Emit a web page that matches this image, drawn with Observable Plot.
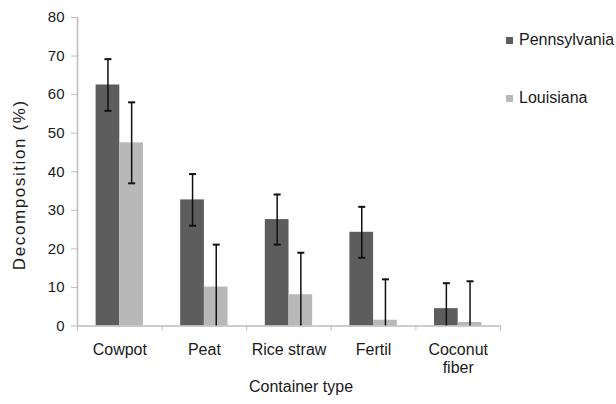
<!DOCTYPE html>
<html><head><meta charset="utf-8">
<script src="https://cdn.jsdelivr.net/npm/d3@7"></script>
<script src="https://cdn.jsdelivr.net/npm/@observablehq/plot@0.6"></script>
<style>
body{margin:0;background:#fff;}
#chart{position:relative;width:616px;height:404px;font-family:"Liberation Sans",Arial,sans-serif;color:#1a1a1a;}
.leg{position:absolute;left:506px;font-size:16px;line-height:18px;display:flex;align-items:center;color:#1a1a1a;white-space:nowrap;}
.sw{width:7px;height:7px;margin-right:6px;}
</style></head><body><div id="chart"></div>
<script>
// ---- data ----
const categories = ["Cowpot", "Peat", "Rice straw", "Fertil", "Coconut fiber"];
const seriesNames = ["Pennsylvania", "Louisiana"];
const pennsylvania = [62.5, 32.7, 27.6, 24.3, 4.5];
const pennsylvaniaErr = [6.7, 6.7, 6.5, 6.6, 6.6];
const louisiana = [47.5, 10.1, 8.1, 1.5, 0.9];
const louisianaErr = [10.5, 11.0, 10.9, 10.6, 10.7];
const yTicks = [0, 10, 20, 30, 40, 50, 60, 70, 80];
const seriesColors = ["#5d5d5d", "#b8b8b8"];

// ---- table ----
const barW = 0.28;
const rows = [];
categories.forEach((c, i) => {
  [[pennsylvania, pennsylvaniaErr], [louisiana, louisianaErr]].forEach(([vals, errs], s) => {
    const v = vals[i], e = errs[i];
    const x1 = i + 0.5 - (s === 0 ? barW : 0);
    rows.push({cat: c, series: seriesNames[s], value: v, err: e,
      x1, x2: x1 + barW, xc: x1 + barW / 2,
      lo: Math.max(0, v - e), hi: v + e, hasLo: v - e > 0});
  });
});

const cap = {draw(ctx) { ctx.moveTo(-3.5, 0); ctx.lineTo(3.5, 0); }};
const axisGray = "#bdbdbd";

const plot = Plot.plot({
  width: 616, height: 404,
  marginLeft: 77, marginRight: 116, marginTop: 17, marginBottom: 78.5,
  style: {fontFamily: '"Liberation Sans", Arial, sans-serif', fontSize: "15px", color: "#1a1a1a", background: "#fff"},
  x: {domain: [0, categories.length], axis: null},
  y: {domain: [0, 80], axis: null},
  color: {domain: seriesNames, range: seriesColors},
  marks: [
    Plot.rectY(rows, {x1: "x1", x2: "x2", y: "value", fill: "series"}),
    Plot.ruleY([0], {stroke: axisGray, strokeWidth: 1.5}),
    Plot.ruleX([0], {stroke: axisGray, strokeWidth: 1.5}),
    Plot.axisY({ticks: yTicks, tickSize: 6, tickPadding: 7, stroke: axisGray, fill: "#1a1a1a", fontSize: 15, label: null}),
    Plot.axisX({ticks: d3.range(0, categories.length + 1), tickFormat: () => "", tickSize: 5, stroke: axisGray, label: null}),
    Plot.ruleX(rows, {x: "xc", y1: "lo", y2: "hi", stroke: "#111", strokeWidth: 1.5}),
    Plot.dot(rows, {x: "xc", y: "hi", symbol: cap, fill: "none", stroke: "#111", strokeWidth: 2}),
    Plot.dot(rows.filter(d => d.hasLo), {x: "xc", y: "lo", symbol: cap, fill: "none", stroke: "#111", strokeWidth: 2}),
    Plot.text(categories, {x: (d, i) => i + 0.5, y: () => 0, text: d => d, lineAnchor: "top", dy: 16, lineWidth: 5.3, lineHeight: 1.15, fontSize: 16, fill: "#1a1a1a"}),
    Plot.text(["Container type"], {frameAnchor: "bottom", text: d => d, dx: 12, dy: 66, fontSize: 16, fill: "#1a1a1a"}),
    Plot.text(["Decomposition (%)"], {frameAnchor: "left", textAnchor: "middle", text: d => d, rotate: -90, dx: -58, dy: 13, fontSize: 17, fill: "#1a1a1a"})
  ]
});
const chart = document.getElementById("chart");
chart.appendChild(plot);
d3.select(plot).selectAll("text").filter(function(){ return this.textContent === "Decomposition (%)"; }).style("letter-spacing", "1.6px");

// legend
[[seriesNames[0], seriesColors[0], 31], [seriesNames[1], seriesColors[1], 89]].forEach(([name, col, top]) => {
  const d = document.createElement("div");
  d.className = "leg";
  d.style.top = top + "px";
  d.innerHTML = `<span class="sw" style="background:${col}"></span><span>${name}</span>`;
  chart.appendChild(d);
});
</script></body></html>
